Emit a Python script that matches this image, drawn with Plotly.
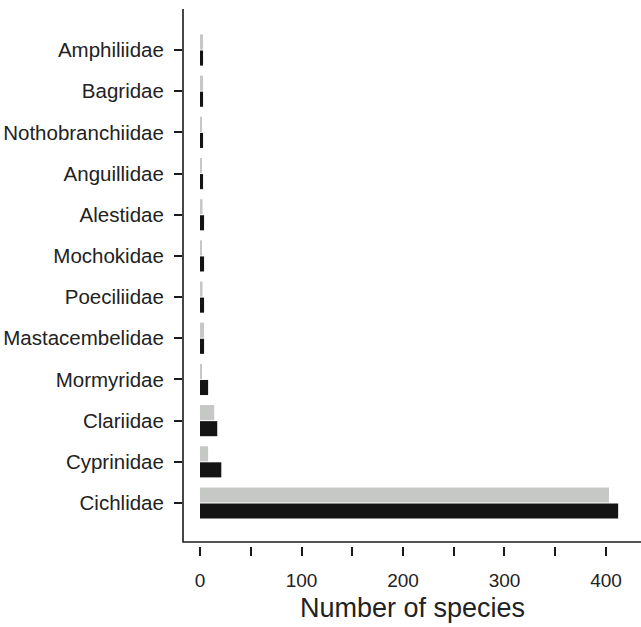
import plotly.graph_objects as go

families = ["Cichlidae", "Cyprinidae", "Clariidae", "Mormyridae", "Mastacembelidae",
            "Poeciliidae", "Mochokidae", "Alestidae", "Anguillidae", "Nothobranchiidae",
            "Bagridae", "Amphiliidae"]
black_values = [412, 21, 17, 8, 4, 4, 4, 4, 3, 3, 3, 3]
gray_values = [403, 8, 14, 2, 4, 2.5, 2, 2.5, 2, 2, 3, 3]
x_tickvals = [0, 50, 100, 150, 200, 250, 300, 350, 400]
x_ticktext = ["0", "", "100", "", "200", "", "300", "", "400"]
x_title = "Number of species"

FONT = "Liberation Sans, Arial, sans-serif"
W, H = 641, 627
L, R, T, B = 183, 0, 9, 81
plot_h = H - T - B

fig = go.Figure()
fig.add_trace(go.Bar(y=families, x=black_values, orientation="h",
                     marker=dict(color="#141414", line=dict(width=0)), name="black"))
fig.add_trace(go.Bar(y=families, x=gray_values, orientation="h",
                     marker=dict(color="#c6c8c6", line=dict(width=0)), name="gray"))

y0 = 4 / plot_h
fig.add_shape(type="path", xref="paper", yref="paper",
              path=f"M 0 1 L 0 {y0} L 1 {y0}",
              line=dict(color="#1a1a1a", width=1.6))

fig.add_annotation(text=x_title, xref="paper", yref="paper", x=0.5,
                   y=-(608 - (H - B)) / plot_h, yanchor="middle", showarrow=False,
                   font=dict(size=27, family=FONT, color="#222222"))

fig.update_layout(
    width=W, height=H,
    margin=dict(l=L, r=R, t=T, b=B),
    paper_bgcolor="white", plot_bgcolor="white",
    barmode="group", bargap=0.22, bargroupgap=0.06,
    showlegend=False,
    font=dict(family=FONT, color="#222222"),
    xaxis=dict(range=[-16.75, 434.5], tickvals=x_tickvals, ticktext=x_ticktext,
               ticks="outside", ticklen=9, tickwidth=1.5, tickcolor="#1a1a1a",
               showline=False, showgrid=False, zeroline=False, automargin=False,
               tickfont=dict(size=19, family=FONT, color="#222222"),
               ticklabelstandoff=8),
    yaxis=dict(type="category", categoryorder="array", categoryarray=families,
               range=[-1.044, 11.996],
               ticks="outside", ticklen=8, tickwidth=1.5, tickcolor="#1a1a1a",
               showline=False, showgrid=False, zeroline=False, automargin=False,
               tickfont=dict(size=20.5, family=FONT, color="#222222"),
               ticklabelstandoff=6),
)

fig.write_html("out.html", config={"displayModeBar": False},
               post_script="document.body.style.margin='0';document.body.style.overflow='hidden';")
